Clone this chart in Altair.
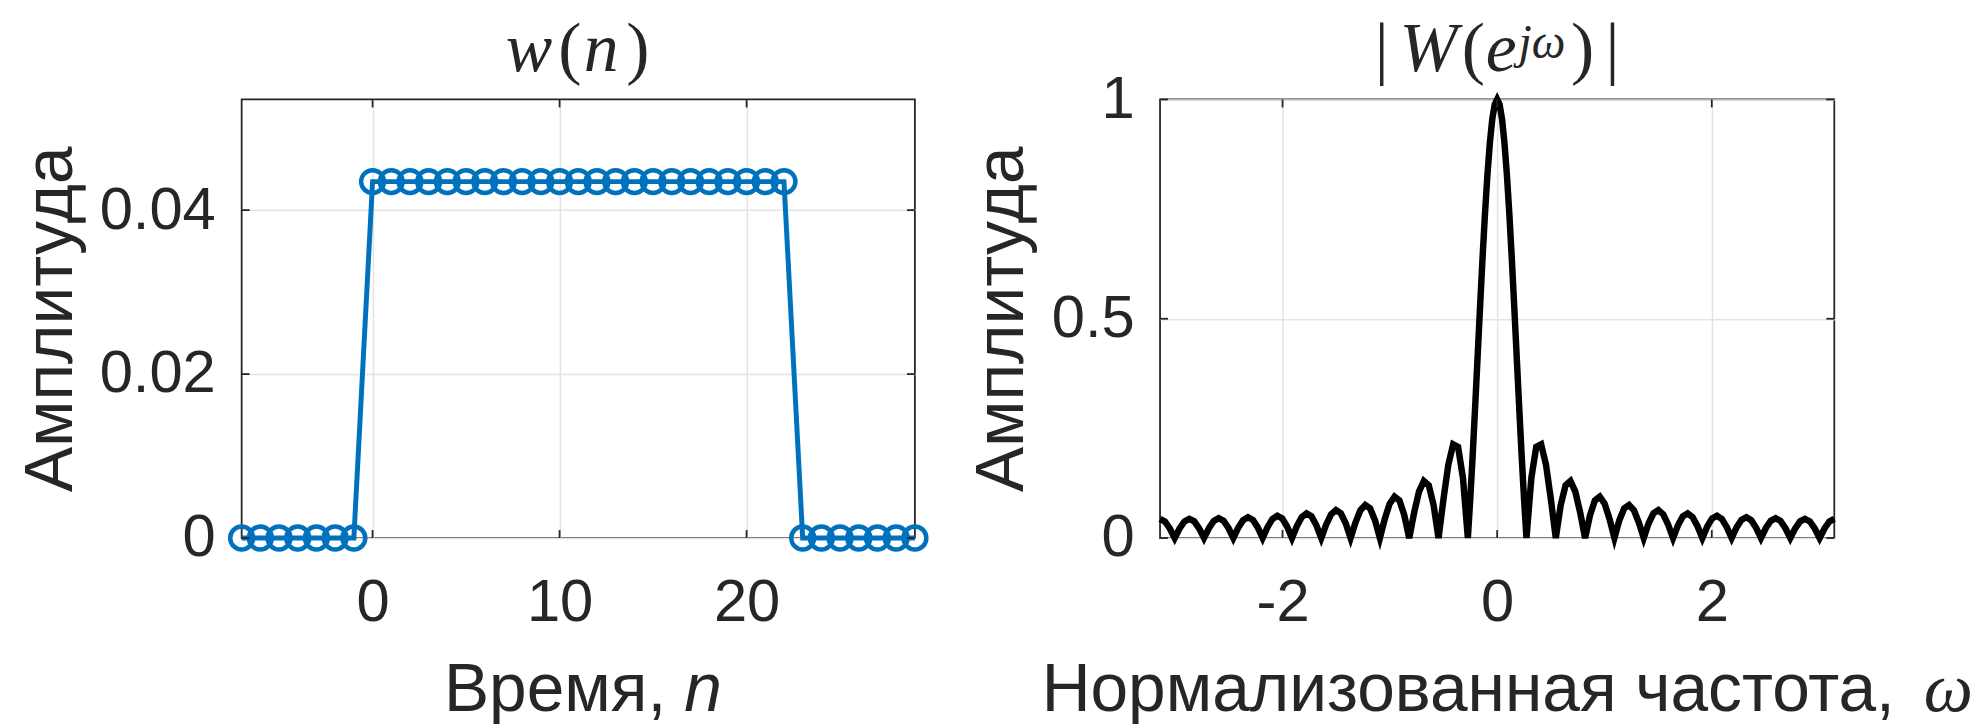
import altair as alt
import pandas as pd

# ---------------- data: window w(n) ----------------
n_vals = list(range(-7, 30))
w_vals = [0, 0, 0, 0, 0, 0, 0,
          0.04348, 0.04348, 0.04348, 0.04348, 0.04348, 0.04348, 0.04348, 0.04348,
          0.04348, 0.04348, 0.04348, 0.04348, 0.04348, 0.04348, 0.04348, 0.04348,
          0.04348, 0.04348, 0.04348, 0.04348, 0.04348, 0.04348, 0.04348,
          0, 0, 0, 0, 0, 0, 0]

# ---------------- data: |W(e^jw)| (positive half, curve is symmetric) ----------------
omega_pos = [0.0, 0.02277, 0.04553, 0.06830, 0.09106, 0.11383, 0.13659, 0.15936, 0.18212,
             0.20489, 0.22765, 0.25042, 0.27318,
             0.31871, 0.36424, 0.40977, 0.45530, 0.50083, 0.54636,
             0.59189, 0.63742, 0.68296, 0.72849, 0.77402, 0.81955,
             0.86508, 0.91061, 0.95614, 1.00167, 1.04720, 1.09273,
             1.13826, 1.18379, 1.22932, 1.27485, 1.32038, 1.36591,
             1.41144, 1.45697, 1.50250, 1.54803, 1.59356, 1.63909,
             1.68462, 1.73015, 1.77568, 1.82121, 1.86674, 1.91227,
             1.95780, 2.00333, 2.04887, 2.09440, 2.13993, 2.18546,
             2.23099, 2.27652, 2.32205, 2.36758, 2.41311, 2.45864,
             2.50417, 2.54970, 2.59523, 2.64076, 2.68629, 2.73182,
             2.77735, 2.82288, 2.86841, 2.91394, 2.95947, 3.00500,
             3.05053, 3.09606, 3.14159]
amp_pos = [1.0, 0.98862, 0.95493, 0.90032, 0.82699, 0.73791, 0.63662, 0.52708, 0.41350,
           0.30011, 0.19099, 0.08987, 0.0,
           0.13700, 0.20790, 0.21370, 0.16684, 0.08773, 0.0,
           0.07454, 0.12017, 0.12983, 0.10570, 0.05760, 0.0,
           0.05186, 0.08563, 0.09450, 0.07842, 0.04348, 0.0,
           0.04034, 0.06749, 0.07539, 0.06327, 0.03545, 0.0,
           0.03352, 0.05656, 0.06370, 0.05387, 0.03040, 0.0,
           0.02913, 0.04947, 0.05605, 0.04767, 0.02705, 0.0,
           0.02620, 0.04470, 0.05089, 0.04348, 0.02478, 0.0,
           0.02420, 0.04147, 0.04740, 0.04066, 0.02327, 0.0,
           0.02289, 0.03936, 0.04515, 0.03887, 0.02231, 0.0,
           0.02210, 0.03814, 0.04389, 0.03790, 0.02183, 0.0,
           0.02176, 0.03766, 0.04348]

# tick values / labels
left_xticks = [0, 10, 20]
left_yticks = [0, 0.02, 0.04]
right_xticks = [-2, 0, 2]
right_yticks = [0, 0.5, 1]

omega_full = [-v for v in omega_pos[:0:-1]] + omega_pos
amp_full = amp_pos[:0:-1] + amp_pos

df_w = pd.DataFrame({"n": n_vals, "w": w_vals})
df_W = pd.DataFrame({"omega": omega_full, "amp": amp_full})
one = pd.DataFrame({"k": [0]})

INK = "#262626"
BLUE = "#0072BD"
GRID = "#E3E3E3"
SANS = "Liberation Sans"
SERIF = "Liberation Serif"
LBL = "'' + datum.value"

WL, WR, H = 677, 678, 441
TK = 8  # inward tick length

# ---------------- encodings ----------------
xL = alt.X("n:Q", scale=alt.Scale(domain=[-7, 29], nice=False, zero=False),
           axis=alt.Axis(values=left_xticks, title=None, labelPadding=83,
                         labelBaseline="alphabetic", labelFlush=False, labelExpr=LBL))
yL = alt.Y("w:Q", scale=alt.Scale(domain=[0, 0.0535], nice=False),
           axis=alt.Axis(values=left_yticks, title="Амплитуда", labelPadding=26.5,
                         labelExpr=LBL,
                         titleX=-171.5, titleY=H / 2, titleAngle=270,
                         titleBaseline="alphabetic", titleAlign="center"))
xR = alt.X("omega:Q", scale=alt.Scale(domain=[-3.14159, 3.14159], nice=False, zero=False),
           axis=alt.Axis(values=right_xticks, title=None, labelPadding=83,
                         labelBaseline="alphabetic", labelFlush=False, labelExpr=LBL))
yR = alt.Y("amp:Q", scale=alt.Scale(domain=[0, 1], nice=False),
           axis=alt.Axis(values=right_yticks, title="Амплитуда", labelPadding=26,
                         labelExpr=LBL,
                         titleX=-138, titleY=H / 2, titleAngle=270,
                         titleBaseline="alphabetic", titleAlign="center"))


def txt(s, px, py, size, font=SERIF, style="normal", align="center"):
    return alt.Chart(one).mark_text(
        text=s, font=font, fontSize=size, fontStyle=style, align=align,
        baseline="alphabetic", color=INK
    ).encode(x=alt.value(px), y=alt.value(py))


def inward_ticks(xvals, yvals, xf, yf, xenc, yenc, width):
    dx = pd.DataFrame({xf: xvals})
    dy = pd.DataFrame({yf: yvals})
    rule = dict(color=INK, strokeWidth=1.8)
    return [
        alt.Chart(dx).mark_rule(**rule).encode(x=xenc, y=alt.value(H), y2=alt.value(H - TK)),
        alt.Chart(dx).mark_rule(**rule).encode(x=xenc, y=alt.value(0), y2=alt.value(TK)),
        alt.Chart(dy).mark_rule(**rule).encode(y=yenc, x=alt.value(0), x2=alt.value(TK)),
        alt.Chart(dy).mark_rule(**rule).encode(y=yenc, x=alt.value(width), x2=alt.value(width - TK)),
    ]


# ---------------- left panel ----------------
line_w = alt.Chart(df_w).mark_line(color=BLUE, strokeWidth=5).encode(x=xL, y=yL)
pts_w = alt.Chart(df_w).mark_point(shape="circle", filled=False, color=BLUE,
                                   strokeWidth=4.5, size=530, opacity=1).encode(x=xL, y=yL)

TB = -28.5
left_titles = [
    txt("w", 289, TB, 70, style="italic"),
    txt("(", 330, TB, 70),
    txt("n", 361.5, TB, 70, style="italic"),
    txt(")", 398.5, TB, 70),
    txt("Время,", 203.5, 615, 68, font=SANS, align="left"),
    txt("n", 445, 615, 68, font=SANS, style="italic", align="left"),
]
anchor = alt.Chart(one).mark_rule(color="white", opacity=0).encode(
    x=alt.value(-241.5), x2=alt.value(-241.5), y=alt.value(-96.7), y2=alt.value(-90))

left = alt.layer(
    line_w, pts_w,
    *inward_ticks(left_xticks, left_yticks, "n", "w", xL, yL, WL),
    *left_titles, anchor
).properties(width=WL, height=H)

# ---------------- right panel ----------------
curve = alt.Chart(df_W).mark_line(color="black", strokeWidth=6.5).encode(x=xR, y=yR)
right_titles = [
    txt("|", 223, TB, 70),
    txt("W", 270, TB, 70, style="italic"),
    txt("(", 315, TB, 70),
    txt("e", 343, TB, 70, style="italic"),
    txt("jω", 384, -41.7, 48, style="italic"),
    txt(")", 425, TB, 70),
    txt("|", 455, TB, 70),
    txt("Нормализованная частота,", -119, 615, 68, font=SANS, align="left"),
    txt("ω", 768, 615, 70, style="italic", align="left"),
]
right = alt.layer(
    curve,
    *inward_ticks(right_xticks, right_yticks, "omega", "amp", xR, yR, WR),
    *right_titles
).properties(width=WR, height=H)

chart = alt.hconcat(left, right, spacing=246.5, bounds="flush").properties(
    padding=0, background="white"
).configure_view(
    stroke=INK, strokeWidth=1.8, fill="white"
).configure_axis(
    grid=True, gridColor=GRID, gridWidth=1.5, domain=False, ticks=False, tickSize=0,
    labelFont=SANS, labelFontSize=60, labelColor=INK, labelOverlap=False, labelBound=False,
    titleFont=SANS, titleFontSize=68, titleColor=INK, titleFontWeight="normal"
)

chart.save("out.html", embed_options={"renderer": "svg", "actions": False})
